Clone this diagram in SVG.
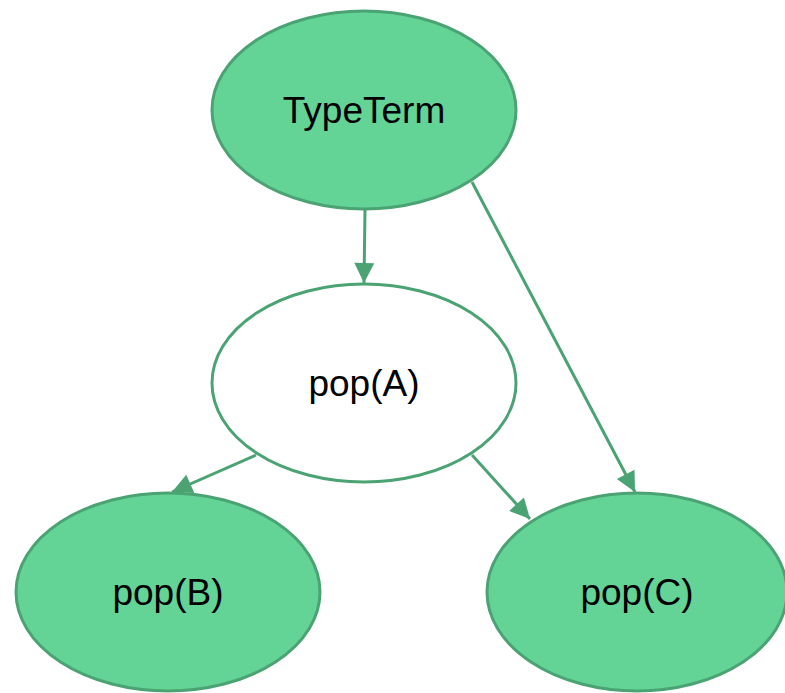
<svg xmlns="http://www.w3.org/2000/svg" width="785" height="693" viewBox="0 0 785 693">
  <style>
    .node ellipse { stroke: #4ba374; stroke-width: 3; }
    .filled ellipse { fill: #63d396; }
    .plain ellipse { fill: #ffffff; }
    .node text { font-family: "Liberation Sans", Arial, sans-serif; font-size: 37px; fill: #000000; text-anchor: middle; }
    .edge { stroke: #4ba374; stroke-width: 3; fill: none; marker-end: url(#arrow); }
  </style>
  <defs>
    <marker id="arrow" viewBox="0 0 10 10" refX="10" refY="5" markerUnits="userSpaceOnUse" markerWidth="26" markerHeight="20" orient="auto">
      <path d="M0,0 L10,5 L0,10 z" fill="#4ba374"/>
    </marker>
  </defs>
  <rect width="785" height="693" fill="#ffffff"/>
  <g id="connectors">
    <line class="edge" x1="365" y1="210" x2="364" y2="283"/>
    <line class="edge" x1="472" y1="182" x2="635" y2="492"/>
    <line class="edge" x1="256" y1="455" x2="172" y2="492"/>
    <line class="edge" x1="472" y1="455" x2="530" y2="519"/>
  </g>
  <g id="TypeTerm" class="node filled">
    <ellipse cx="364" cy="110" rx="152" ry="99"/>
    <text x="364" y="123">TypeTerm</text>
  </g>
  <g id="popA" class="node plain">
    <ellipse cx="364" cy="383" rx="152" ry="99"/>
    <text x="364" y="396">pop(A)</text>
  </g>
  <g id="popB" class="node filled">
    <ellipse cx="168" cy="592" rx="152" ry="99"/>
    <text x="168" y="605">pop(B)</text>
  </g>
  <g id="popC" class="node filled">
    <ellipse cx="637" cy="592" rx="150" ry="99"/>
    <text x="637" y="605">pop(C)</text>
  </g>
</svg>
